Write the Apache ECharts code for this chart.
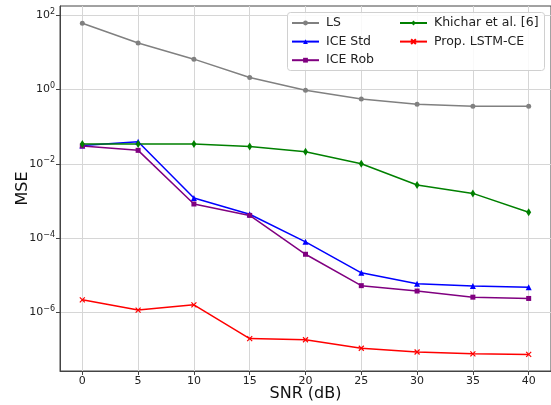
<!DOCTYPE html>
<html>
<head>
<meta charset="utf-8">
<script src="https://cdn.jsdelivr.net/npm/echarts@6/dist/echarts.min.js"></script>
<style>
  html, body { margin: 0; padding: 0; background: #fff; }
  #chart { width: 551px; height: 405px; }
</style>
</head>
<body>
<div id="chart"></div>
<script>
// SNR (dB)
const snr = [0, 5, 10, 15, 20, 25, 30, 35, 40];
const xTicks = [0, 5, 10, 15, 20, 25, 30, 35, 40];
const yTicks = [1e-6, 1e-4, 1e-2, 1, 100];

// MSE per method
const ls = [60, 17.6, 6.5, 2.1, 0.95, 0.55, 0.40, 0.355, 0.35];
const iceStd = [0.031, 0.039, 0.0012, 0.00044, 0.00008, 0.0000117, 0.000006, 0.0000052, 0.0000048];
const iceRob = [0.030, 0.023, 0.00083, 0.00041, 0.000037, 0.0000053, 0.0000038, 0.0000026, 0.0000024];
const khichar = [0.034, 0.034, 0.034, 0.029, 0.021, 0.010, 0.0027, 0.0016, 0.0005];
const lstm = [2.2e-6, 1.17e-6, 1.62e-6, 2.0e-7, 1.86e-7, 1.1e-7, 8.7e-8, 7.8e-8, 7.5e-8];

(function () {
  const chart = echarts.init(document.getElementById("chart"));
  const font = "DejaVu Sans";
  const supMap = { "-": "\u2212", "0": "0", "1": "1", "2": "2", "3": "3", "4": "4", "5": "5", "6": "6", "7": "7", "8": "8", "9": "9" };

  function pairs(ys) {
    return snr.map(function (x, i) { return [x, ys[i]]; });
  }

  function line(name, ys, color, symbol, size) {
    return {
      name: name,
      type: "line",
      data: pairs(ys),
      symbol: symbol,
      symbolSize: size,
      showSymbol: true,
      lineStyle: { color: color, width: 1.5 },
      itemStyle: { color: color, borderColor: color, borderWidth: symbol.indexOf("path") === 0 ? 1.2 : 0 },
      emphasis: { disabled: true },
      animation: false,
      z: 3
    };
  }

  const crossPath = "path://M0,0L10,10M10,0L0,10";

  const legendBase = {
    orient: "vertical",
    top: 16,
    padding: 0,
    itemWidth: 27,
    itemHeight: 6,
    itemGap: 4.6,
    z: 6,
    textStyle: { fontFamily: font, fontSize: 12.5, lineHeight: 14, color: "#222", padding: [0, 0, 0, 2] }
  };

  const option = {
    animation: false,
    textStyle: { fontFamily: font },
    grid: {
      left: 60, right: 0, top: 6, bottom: 34,
      containLabel: false,
      outerBoundsMode: "none",
      show: true,
      borderColor: "#444",
      borderWidth: 1
    },
    graphic: [
      {
        type: "rect",
        z: 5,
        shape: { x: 287.5, y: 12.5, width: 257, height: 58, r: 3 },
        style: { fill: "rgba(255,255,255,0.85)", stroke: "#d0d0d0", lineWidth: 1 }
      }
    ],
    legend: [
      Object.assign({}, legendBase, { data: ["LS", "ICE Std", "ICE Rob"], left: 291 }),
      Object.assign({}, legendBase, { data: ["Khichar et al. [6]", "Prop. LSTM-CE"], left: 399 })
    ],
    xAxis: {
      type: "value",
      min: -2,
      max: 42,
      name: "SNR (dB)",
      nameLocation: "middle",
      nameGap: 15,
      nameMoveOverlap: false,
      nameTextStyle: { fontFamily: font, fontSize: 16, color: "#111", verticalAlign: "top" },
      axisLine: { show: true, onZero: false, lineStyle: { color: "#444", width: 1 } },
      axisTick: { show: true, inside: false, length: 4, customValues: xTicks, lineStyle: { color: "#444" } },
      axisLabel: { customValues: xTicks, fontFamily: font, fontSize: 11, color: "#222", margin: 5 },
      splitLine: { show: true, lineStyle: { color: "#d6d6d6", width: 1 } }
    },
    yAxis: {
      type: "log",
      logBase: 10,
      min: Math.pow(10, -7.57),
      max: Math.pow(10, 2.242),
      name: "MSE",
      nameLocation: "middle",
      nameGap: 29,
      nameMoveOverlap: false,
      nameTextStyle: { fontFamily: font, fontSize: 16, color: "#111" },
      axisLine: { show: true, onZero: false, lineStyle: { color: "#444", width: 1 } },
      axisTick: { show: true, inside: false, length: 4, customValues: yTicks, lineStyle: { color: "#444" } },
      minorTick: { show: false },
      axisLabel: {
        customValues: yTicks,
        margin: 5,
        formatter: function (v) {
          const e = Math.round(Math.log10(v));
          const s = String(e).split("").map(function (c) { return supMap[c]; }).join("");
          return "{b|10}{s|" + s + "}";
        },
        rich: {
          b: { fontFamily: font, fontSize: 11, color: "#222" },
          s: { fontFamily: font, fontSize: 8, color: "#222", padding: [0, 0, 7, 0] }
        }
      },
      splitLine: { show: true, lineStyle: { color: "#d6d6d6", width: 1 } }
    },
    series: [
      line("LS", ls, "#808080", "circle", 5),
      line("ICE Std", iceStd, "#0000ff", "triangle", 6),
      line("ICE Rob", iceRob, "#800080", "rect", 5),
      line("Khichar et al. [6]", khichar, "#008000", "diamond", [5, 8]),
      line("Prop. LSTM-CE", lstm, "#ff0000", crossPath, 5)
    ]
  };

  chart.setOption(option);
  window.addEventListener("resize", function () {
    chart.resize();
  });
})();
</script>
</body>
</html>
